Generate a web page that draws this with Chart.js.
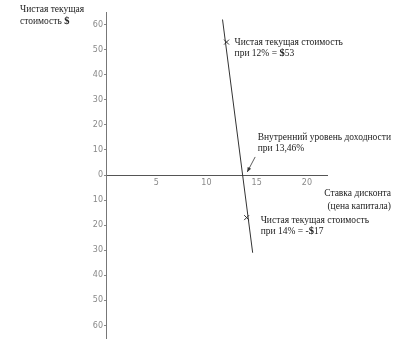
<!DOCTYPE html>
<html>
<head>
<meta charset="utf-8">
<script src="https://cdn.jsdelivr.net/npm/chart.js@4/dist/chart.umd.min.js"></script>
<style>
  html, body { margin: 0; padding: 0; background: #fff; }
  #wrap { width: 420px; height: 348px; }
</style>
</head>
<body>
<div id="wrap"><canvas id="npv-chart"></canvas></div>
<script>
// данные графика
const lineRates = [11.6, 14.6];
const lineNpv = [62, -31];
const pointRates = [12, 14];
const pointNpv = [53, -17];
const irrRate = 13.46;
const xTicks = [5, 10, 15, 20];
const yTicks = [-60, -50, -40, -30, -20, -10, 0, 10, 20, 30, 40, 50, 60];

const serif = "'Liberation Serif', 'DejaVu Serif', serif";
const sans = "'DejaVu Sans', 'Liberation Sans', sans-serif";

// подписи в координатах данных
const notes = [
  { x: 12.8, y: 53, lines: ["Чистая текущая стоимость", "при 12% = $53"] },
  { x: 15.1, y: 15, lines: ["Внутренний уровень доходности", "при 13,46%"] },
  { x: 15.4, y: -18, lines: ["Чистая текущая стоимость", "при 14% = -$17"] }
];

function drawRich(ctx, text, x, y) {
  // "$" рисуем жирным
  const parts = text.split("$");
  let cx = x;
  parts.forEach((p, i) => {
    if (i > 0) {
      ctx.font = "bold 10.5px " + serif;
      ctx.fillText("$", cx, y);
      cx += ctx.measureText("$").width;
    }
    ctx.font = "9.5px " + serif;
    ctx.fillText(p, cx, y);
    cx += ctx.measureText(p).width;
  });
}

const notesPlugin = {
  id: "notes",
  afterDraw(chart) {
    const ctx = chart.ctx;
    const xs = chart.scales.x;
    const ys = chart.scales.y;
    const area = chart.chartArea;
    ctx.save();
    ctx.fillStyle = "#222";
    ctx.textBaseline = "middle";
    ctx.textAlign = "left";

    notes.forEach((n) => {
      const px = xs.getPixelForValue(n.x);
      const py = ys.getPixelForValue(n.y);
      n.lines.forEach((t, i) => drawRich(ctx, t, px, py + i * 11));
    });

    // заголовок оси Y
    drawRich(ctx, "Чистая текущая", area.left - 86, area.top - 3);
    drawRich(ctx, "стоимость $", area.left - 86, area.top + 9);

    // заголовок оси X
    ctx.textAlign = "right";
    ctx.font = "9.5px " + serif;
    ctx.fillText("Ставка дисконта", area.right + 64, ys.getPixelForValue(-7.5));
    ctx.fillText("(цена капитала)", area.right + 64, ys.getPixelForValue(-12.5));

    // стрелка к ВНД
    const x1 = xs.getPixelForValue(14.85), y1 = ys.getPixelForValue(7.2);
    const x2 = xs.getPixelForValue(irrRate + 0.6), y2 = ys.getPixelForValue(1.2);
    ctx.strokeStyle = "#333";
    ctx.lineWidth = 0.8;
    ctx.beginPath();
    ctx.moveTo(x1, y1);
    ctx.lineTo(x2, y2);
    ctx.stroke();
    const a = Math.atan2(y2 - y1, x2 - x1);
    ctx.beginPath();
    ctx.moveTo(x2, y2);
    ctx.lineTo(x2 - 5 * Math.cos(a - 0.4), y2 - 5 * Math.sin(a - 0.4));
    ctx.lineTo(x2 - 5 * Math.cos(a + 0.4), y2 - 5 * Math.sin(a + 0.4));
    ctx.closePath();
    ctx.fillStyle = "#333";
    ctx.fill();
    ctx.restore();
  }
};

const ctx = document.getElementById("npv-chart").getContext("2d");
new Chart(ctx, {
  type: "scatter",
  data: {
    datasets: [
      {
        type: "line",
        data: lineRates.map((r, i) => ({ x: r, y: lineNpv[i] })),
        borderColor: "#333",
        borderWidth: 1,
        pointRadius: 0,
        fill: false
      },
      {
        data: pointRates.map((r, i) => ({ x: r, y: pointNpv[i] })),
        pointStyle: "crossRot",
        pointRadius: 3.5,
        borderColor: "#333",
        borderWidth: 1
      }
    ]
  },
  options: {
    responsive: true,
    maintainAspectRatio: false,
    animation: false,
    layout: { padding: { left: 0, right: 93, top: 12, bottom: 10 } },
    plugins: { legend: { display: false }, tooltip: { enabled: false } },
    scales: {
      x: {
        type: "linear",
        min: 0,
        max: 22,
        position: { y: 0 },
        afterBuildTicks: (s) => { s.ticks = xTicks.map((v) => ({ value: v })); },
        grid: { display: false, tickLength: 0 },
        border: { display: true, color: "#555", width: 1 },
        ticks: { color: "#888", font: { family: sans, size: 8 }, padding: 3 }
      },
      y: {
        type: "linear",
        min: -65,
        max: 65,
        position: "left",
        afterFit: (s) => { s.width = 106; },
        afterBuildTicks: (s) => { s.ticks = yTicks.map((v) => ({ value: v })); },
        grid: { display: true, drawOnChartArea: false, drawTicks: true, tickLength: 2, color: "#888" },
        border: { display: true, color: "#777", width: 1 },
        ticks: {
          color: "#888",
          font: { family: sans, size: 8 },
          padding: 1,
          callback: (v) => String(Math.abs(v))
        }
      }
    }
  },
  plugins: [notesPlugin]
});
</script>
</body>
</html>
